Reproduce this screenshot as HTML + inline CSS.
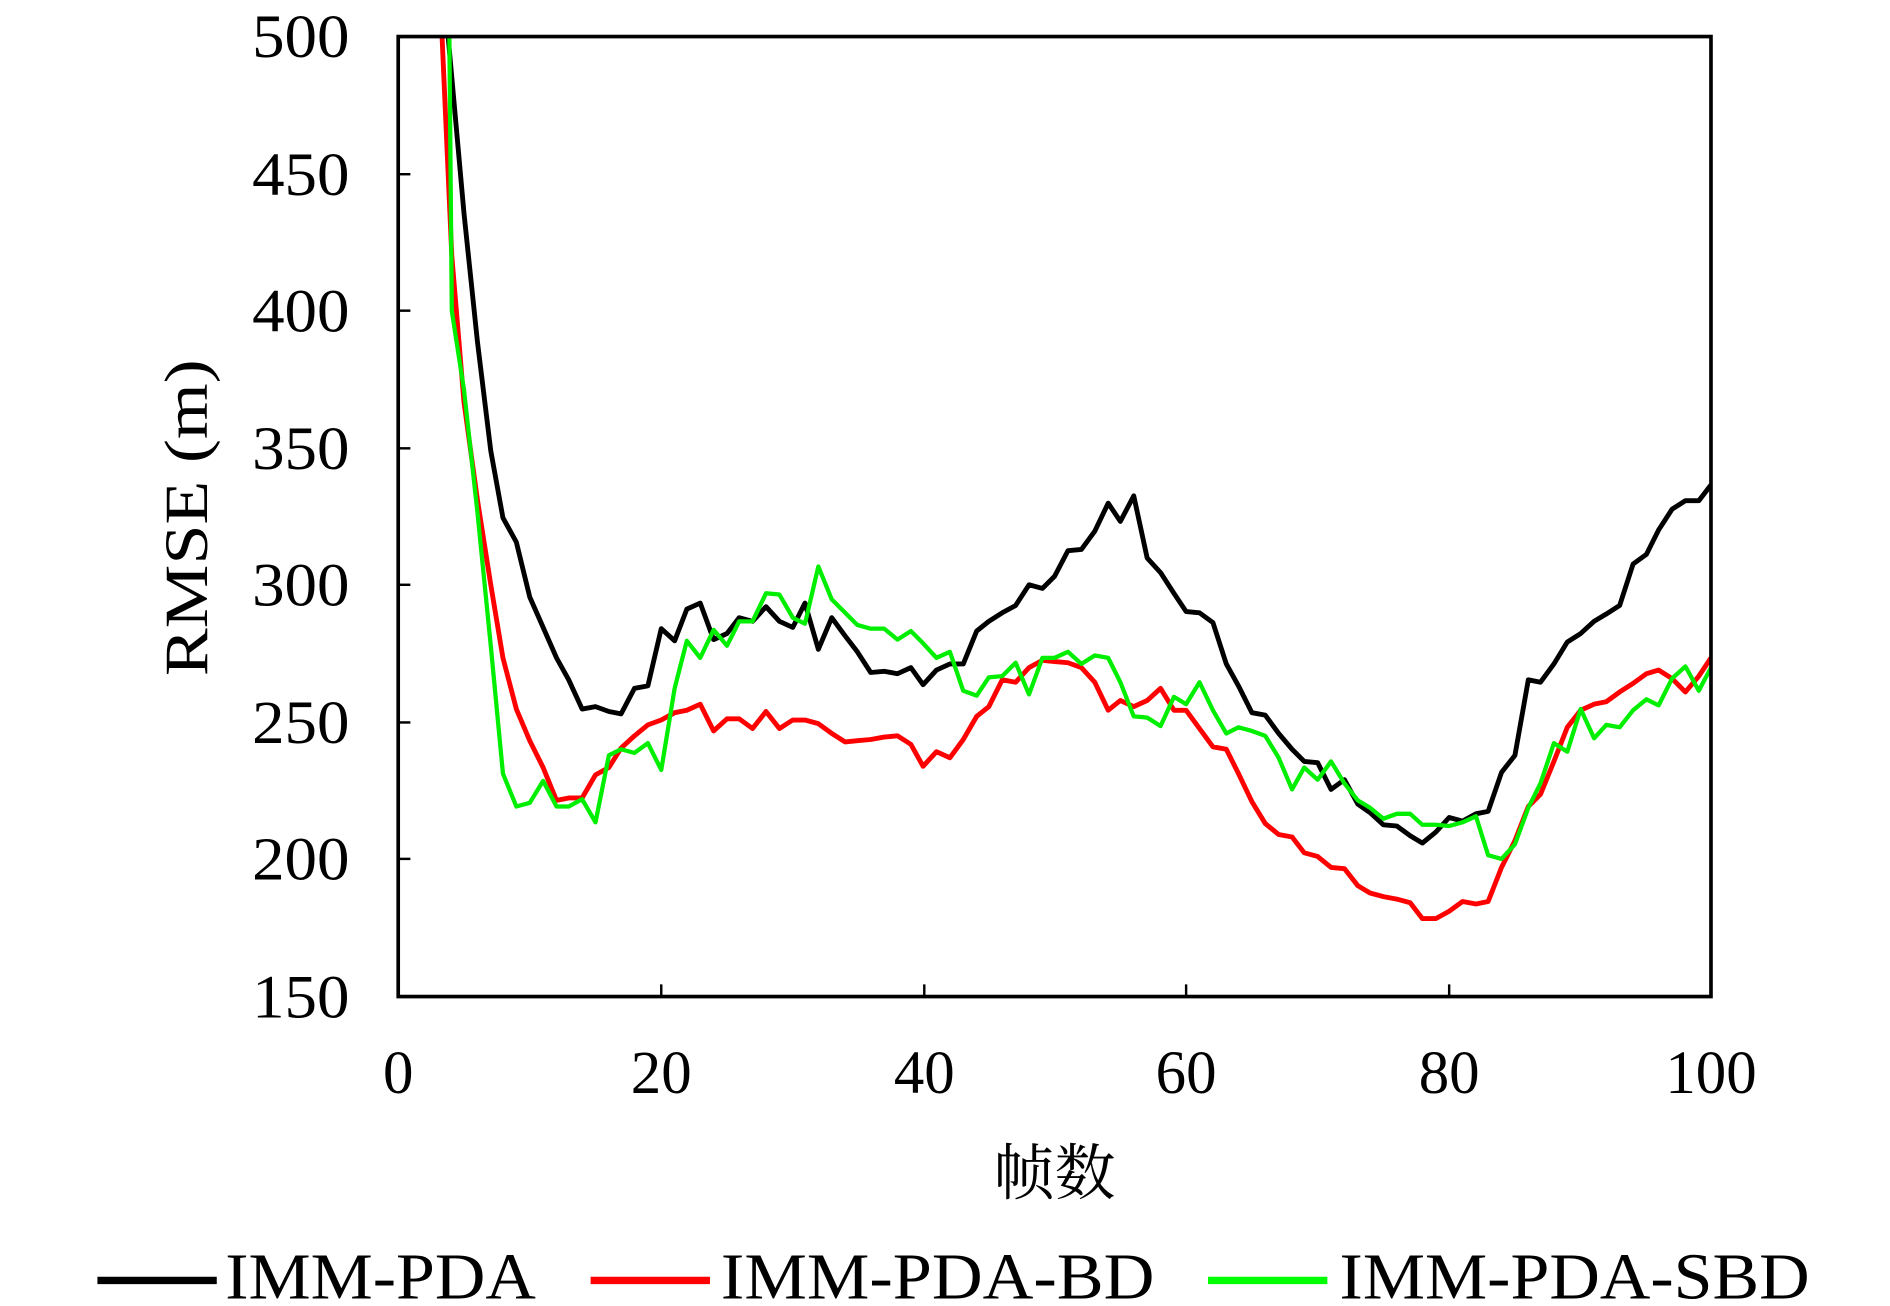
<!DOCTYPE html>
<html><head><meta charset="utf-8"><style>html,body{margin:0;padding:0;background:#fff}svg{display:block}</style></head>
<body>
<svg width="1890" height="1306" viewBox="0 0 1552 1072" preserveAspectRatio="none" xmlns="http://www.w3.org/2000/svg">
<rect width="1552" height="1072" fill="#fff"/>
<g font-family="'Liberation Serif', serif" font-size="50" fill="#000">
<text x="287" y="47" text-anchor="end" textLength="80" lengthAdjust="spacingAndGlyphs">500</text>
<text x="287" y="160" text-anchor="end" textLength="80" lengthAdjust="spacingAndGlyphs">450</text>
<text x="287" y="272" text-anchor="end" textLength="80" lengthAdjust="spacingAndGlyphs">400</text>
<text x="287" y="385" text-anchor="end" textLength="80" lengthAdjust="spacingAndGlyphs">350</text>
<text x="287" y="497" text-anchor="end" textLength="80" lengthAdjust="spacingAndGlyphs">300</text>
<text x="287" y="610" text-anchor="end" textLength="80" lengthAdjust="spacingAndGlyphs">250</text>
<text x="287" y="722" text-anchor="end" textLength="80" lengthAdjust="spacingAndGlyphs">200</text>
<text x="287" y="835" text-anchor="end" textLength="80" lengthAdjust="spacingAndGlyphs">150</text>
<text x="327" y="897" text-anchor="middle">0</text>
<text x="543" y="897" text-anchor="middle">20</text>
<text x="759" y="897" text-anchor="middle">40</text>
<text x="974" y="897" text-anchor="middle">60</text>
<text x="1190" y="897" text-anchor="middle">80</text>
<text x="1405" y="897" text-anchor="middle">100</text>
<text x="866" y="980" text-anchor="middle" font-family="'Liberation Serif','Noto Serif CJK SC',serif" font-size="50">帧数</text>
<text transform="translate(170,425) rotate(-90)" text-anchor="middle" font-size="50" textLength="260" lengthAdjust="spacingAndGlyphs">RMSE (m)</text>
<text x="185" y="1066" font-size="54" textLength="255" lengthAdjust="spacingAndGlyphs">IMM-PDA</text>
<text x="592" y="1066" font-size="54" textLength="356" lengthAdjust="spacingAndGlyphs">IMM-PDA-BD</text>
<text x="1100" y="1066" font-size="54" textLength="386" lengthAdjust="spacingAndGlyphs">IMM-PDA-SBD</text>
</g>
<line x1="80" y1="1051" x2="178" y2="1051" stroke="#000" stroke-width="6"/>
<line x1="485" y1="1051" x2="583" y2="1051" stroke="#f00" stroke-width="6"/>
<line x1="992" y1="1051" x2="1090" y2="1051" stroke="#0f0" stroke-width="6"/>
<g stroke="#000" stroke-width="2">
<line x1="327" y1="143" x2="337" y2="143"/><line x1="327" y1="255" x2="337" y2="255"/><line x1="327" y1="368" x2="337" y2="368"/><line x1="327" y1="480" x2="337" y2="480"/><line x1="327" y1="593" x2="337" y2="593"/><line x1="327" y1="705" x2="337" y2="705"/>
<line x1="543" y1="818" x2="543" y2="808"/><line x1="759" y1="818" x2="759" y2="808"/><line x1="974" y1="818" x2="974" y2="808"/><line x1="1190" y1="818" x2="1190" y2="808"/>
</g>
<svg x="327" y="30" width="1078" height="788" viewBox="327 30 1078 788" overflow="hidden">
<polyline fill="none" stroke="#f00" stroke-width="4" stroke-linejoin="round" points="363,30 371,210 381,330 392,410 403,480 413,540 424,582 435,608 446,630 457,657 467,655 478,655 489,636 500,630 510,614 521,604 532,595 543,591 554,585 564,583 575,578 586,600 597,590 607,590 618,598 629,584 640,598 651,591 661,591 672,594 683,602 694,609 704,608 715,607 726,605 737,604 748,611 758,629 769,617 780,622 791,607 802,588 812,580 823,558 834,560 845,548 856,542 866,543 877,544 888,548 899,560 910,583 920,575 931,580 942,575 953,565 964,583 974,583 985,598 996,613 1007,615 1017,635 1028,658 1039,676 1050,685 1061,687 1071,700 1082,703 1093,712 1104,713 1115,727 1125,733 1136,736 1147,738 1158,741 1168,754 1179,754 1190,748 1201,740 1212,742 1222,740 1233,712 1244,690 1255,662 1265,652 1276,625 1287,597 1298,583 1309,578 1319,576 1330,568 1341,561 1352,553 1362,550 1373,557 1384,568 1395,555 1405,540"/>
<polyline fill="none" stroke="#000" stroke-width="4" stroke-linejoin="round" points="368,30 381,175 392,280 403,370 413,425 424,445 435,490 446,515 457,540 467,558 478,582 489,580 500,584 510,586 521,565 532,563 543,516 554,526 564,500 575,495 586,525 597,520 607,507 618,510 629,498 640,510 651,515 661,495 672,533 683,507 694,522 704,535 715,552 726,551 737,553 748,548 758,562 769,550 780,545 791,545 802,518 812,510 823,503 834,497 845,480 856,483 866,473 877,452 888,451 899,436 910,413 920,428 931,407 942,458 953,470 964,487 974,502 985,503 996,511 1007,545 1017,563 1028,585 1039,587 1050,602 1061,615 1071,625 1082,626 1093,648 1104,640 1115,660 1125,667 1136,677 1147,678 1158,686 1168,692 1179,683 1190,671 1201,674 1212,668 1222,666 1233,634 1244,620 1255,558 1265,560 1276,545 1287,527 1298,520 1309,510 1319,504 1330,497 1341,463 1352,455 1362,435 1373,418 1384,411 1395,411 1405,398"/>
<polyline fill="none" stroke="#0e0" stroke-width="3.5" stroke-linejoin="round" points="369,30 371,255 381,320 392,420 403,530 413,635 424,662 435,659 446,641 457,662 467,662 478,656 489,675 500,620 510,615 521,618 532,610 543,632 554,565 564,526 575,540 586,517 597,530 607,510 618,510 629,487 640,488 651,507 661,512 672,465 683,492 694,503 704,513 715,516 726,516 737,525 748,518 758,528 769,540 780,535 791,567 802,571 812,556 823,555 834,544 845,570 856,540 866,540 877,535 888,545 899,538 910,540 920,560 931,588 942,589 953,596 964,572 974,578 985,560 996,583 1007,602 1017,597 1028,600 1039,604 1050,622 1061,648 1071,630 1082,640 1093,625 1104,643 1115,657 1125,663 1136,672 1147,668 1158,668 1168,677 1179,677 1190,678 1201,675 1212,670 1222,702 1233,705 1244,693 1255,663 1265,643 1276,610 1287,617 1298,582 1309,606 1319,595 1330,597 1341,583 1352,574 1362,579 1373,557 1384,547 1395,567 1405,548"/>
</svg>
<rect x="327" y="30" width="1078" height="788" fill="none" stroke="#000" stroke-width="3"/>
</svg>
</body></html>
